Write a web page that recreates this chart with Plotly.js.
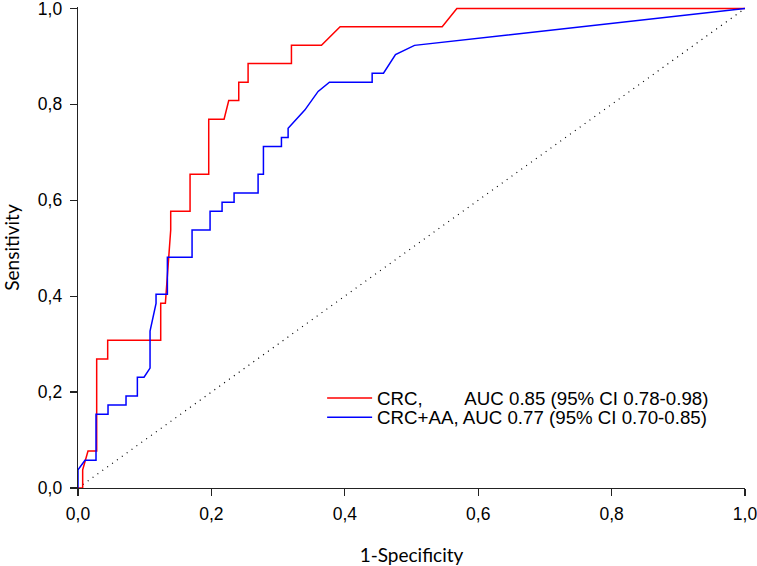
<!DOCTYPE html>
<html>
<head>
<meta charset="utf-8">
<script src="https://cdn.plot.ly/plotly-3.0.1.min.js"></script>
<style>html,body{margin:0;padding:0;background:#fff;}#chart{width:757px;height:566px;}</style>
</head>
<body>
<div id="chart"></div>
<script>
// CRC curve (1-Specificity, Sensitivity)
const crcFpr = [0, 0.007, 0.007, 0.015, 0.028, 0.028, 0.0445, 0.0445, 0.124, 0.124, 0.131, 0.139, 0.139, 0.168, 0.168, 0.196, 0.196, 0.219, 0.226, 0.241, 0.241, 0.255, 0.255, 0.320, 0.320, 0.365, 0.393, 0.546, 0.568, 1];
const crcTpr = [0, 0, 0.038, 0.077, 0.077, 0.269, 0.269, 0.308, 0.308, 0.385, 0.385, 0.538, 0.577, 0.577, 0.654, 0.654, 0.769, 0.769, 0.808, 0.808, 0.846, 0.846, 0.885, 0.885, 0.923, 0.923, 0.962, 0.962, 1, 1];
// CRC+AA curve
const aaFpr = [0, 0, 0.0105, 0.027, 0.027, 0.045, 0.045, 0.072, 0.072, 0.089, 0.089, 0.099, 0.108, 0.108, 0.117, 0.117, 0.134, 0.134, 0.171, 0.171, 0.198, 0.198, 0.216, 0.216, 0.234, 0.234, 0.270, 0.270, 0.278, 0.278, 0.305, 0.305, 0.315, 0.315, 0.340, 0.360, 0.377, 0.441, 0.441, 0.458, 0.476, 0.5045, 1];
const aaTpr = [0, 0.038, 0.058, 0.058, 0.154, 0.154, 0.173, 0.173, 0.192, 0.192, 0.231, 0.231, 0.250, 0.327, 0.385, 0.404, 0.404, 0.481, 0.481, 0.538, 0.538, 0.577, 0.577, 0.596, 0.596, 0.615, 0.615, 0.654, 0.654, 0.712, 0.712, 0.731, 0.731, 0.750, 0.788, 0.827, 0.846, 0.846, 0.865, 0.865, 0.904, 0.923, 1];
// chance line
const refX = [0, 1];
const refY = [0, 1];
const tickVals = [0, 0.2, 0.4, 0.6, 0.8, 1.0];
const nameCRC = 'CRC,\u00A0\u00A0\u00A0\u00A0\u00A0\u00A0\u00A0\u00A0AUC 0.85 (95% CI 0.78-0.98)';
const nameAA = 'CRC+AA, AUC 0.77 (95% CI 0.70-0.85)';

const traces = [
  {x: refX, y: refY, mode: 'lines', line: {color: '#000', width: 1.2, dash: '1px,5px'}, showlegend: false, hoverinfo: 'skip'},
  {x: crcFpr, y: crcTpr, mode: 'lines', name: nameCRC, legend: 'legend', line: {color: '#ff0000', width: 1.5}},
  {x: aaFpr, y: aaTpr, mode: 'lines', name: nameAA, legend: 'legend2', line: {color: '#0000ff', width: 1.5}}
];

const axisCommon = {
  showgrid: false, zeroline: false, showline: true, linecolor: '#222', linewidth: 1.3,
  ticks: 'outside', ticklen: 7, tickwidth: 1.3, tickcolor: '#222',
  tickvals: tickVals, tickformat: '.1f', ticklabeloverflow: 'allow',
  tickfont: {family: 'Liberation Sans, Arial, sans-serif', size: 17.5, color: '#000'},
  layer: 'below traces'
};

const legendFont = {family: 'Liberation Sans, Arial, sans-serif', size: 18.7, color: '#000'};

const layout = {
  width: 757, height: 566,
  margin: {l: 78, r: 12, t: 7, b: 78},
  paper_bgcolor: '#fff', plot_bgcolor: '#fff',
  separators: ',.',
  showlegend: true,
  legend: {
    x: 0.366, y: 0.226, xanchor: 'left', yanchor: 'top',
    font: legendFont, bgcolor: 'rgba(0,0,0,0)', itemwidth: 45
  },
  legend2: {
    x: 0.366, y: 0.186, xanchor: 'left', yanchor: 'top',
    font: legendFont, bgcolor: 'rgba(0,0,0,0)', itemwidth: 45
  },
  xaxis: Object.assign({}, axisCommon, {
    range: [0, 1], ticklabelstandoff: 3,
    title: {text: '1-Specificity', font: {family: 'Lato, sans-serif', size: 19, color: '#000'}, standoff: 27}
  }),
  yaxis: Object.assign({}, axisCommon, {
    range: [0, 1.003], ticklabelstandoff: 4,
    title: {text: 'Sensitivity', font: {family: 'Lato, sans-serif', size: 19, color: '#000'}, standoff: 16}
  })
};

Plotly.newPlot('chart', traces, layout, {displayModeBar: false, staticPlot: true});
</script>
</body>
</html>
